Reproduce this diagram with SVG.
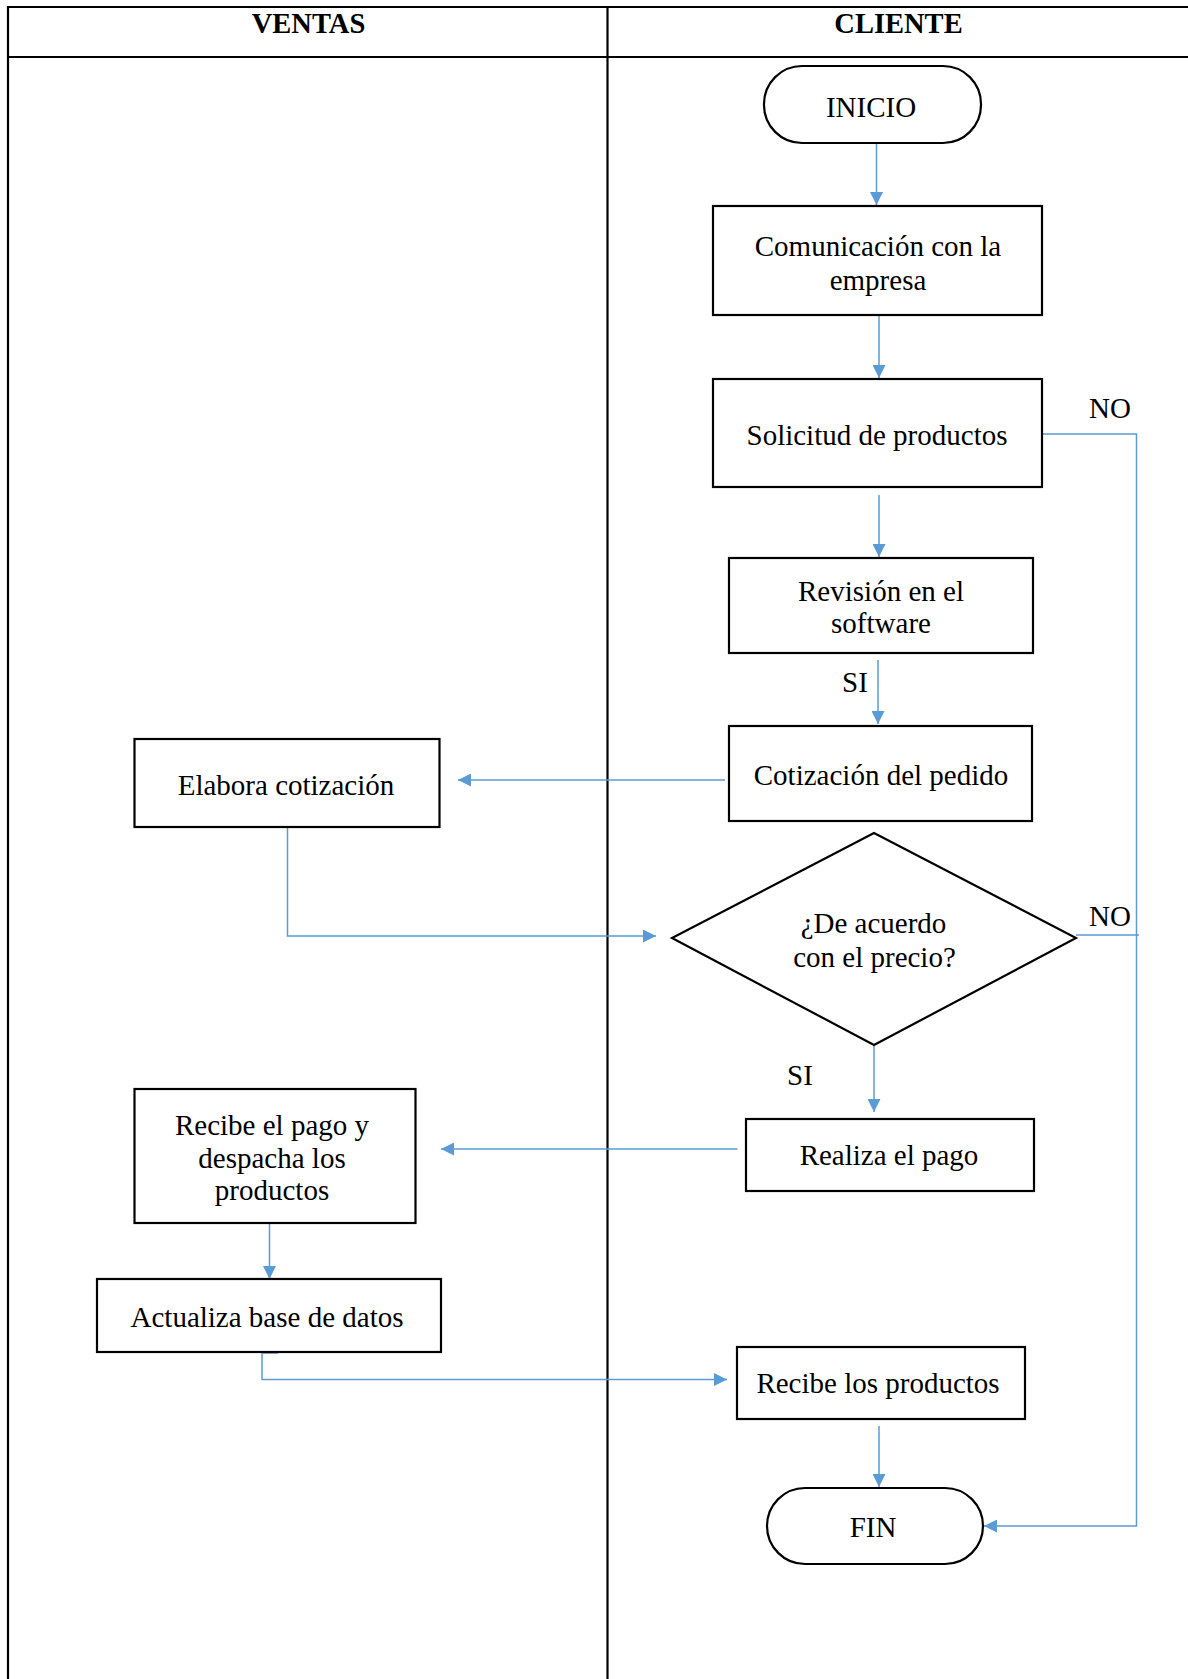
<svg xmlns="http://www.w3.org/2000/svg" width="1188" height="1679" viewBox="0 0 1188 1679">
<defs>
<style>
.frame{fill:none;stroke:#000;stroke-width:2.2}
.box{fill:#fff;stroke:#000;stroke-width:2.2}
.t{font-family:"Liberation Serif","Times New Roman",serif;font-size:29px;fill:#000;text-anchor:middle}
.h{font-family:"Liberation Serif","Times New Roman",serif;font-size:28.5px;font-weight:bold;fill:#000;text-anchor:middle}
.c{fill:none;stroke:#5B9BD5;stroke-width:1.5}
</style>
<marker id="ah" viewBox="0 0 12 12" refX="12" refY="6" markerWidth="13" markerHeight="13" markerUnits="userSpaceOnUse" orient="auto">
<path d="M0,0 L12,6 L0,12 z" fill="#5B9BD5"/>
</marker>
</defs>
<rect width="1188" height="1679" fill="#fff"/>
<g id="lanes">
<line class="frame" x1="7" y1="7" x2="1188" y2="7"/>
<line class="frame" x1="7" y1="57" x2="1188" y2="57"/>
<line class="frame" x1="8" y1="6" x2="8" y2="1679"/>
<line class="frame" x1="607.5" y1="6" x2="607.5" y2="1679"/>
<text class="h" x="308.5" y="33">VENTAS</text>
<text class="h" x="898.5" y="33">CLIENTE</text>
</g>
<g id="connectors">
<path class="c" d="M876.5,143 V205" marker-end="url(#ah)"/>
<path class="c" d="M879,315 V378" marker-end="url(#ah)"/>
<path class="c" d="M879,495 V557" marker-end="url(#ah)"/>
<path class="c" d="M878,660 V724" marker-end="url(#ah)"/>
<path class="c" d="M725,780 H458" marker-end="url(#ah)"/>
<path class="c" d="M287.5,827 V936 H656" marker-end="url(#ah)"/>
<path class="c" d="M874,1045 V1112" marker-end="url(#ah)"/>
<path class="c" d="M737.5,1149 H441" marker-end="url(#ah)"/>
<path class="c" d="M269.5,1223 V1279" marker-end="url(#ah)"/>
<path class="c" d="M278,1353 H262 V1379.5 H727" marker-end="url(#ah)"/>
<path class="c" d="M879,1426 V1487" marker-end="url(#ah)"/>
<path class="c" d="M1042,434 H1136.5 V1526 H984" marker-end="url(#ah)"/>
<path class="c" d="M1076,935 H1139"/>
<text class="t" x="1110" y="418">NO</text>
<text class="t" x="855" y="692">SI</text>
<text class="t" x="1110" y="926">NO</text>
<text class="t" x="800" y="1085">SI</text>
</g>
<g id="inicio">
<rect class="box" x="764" y="66" width="217" height="77" rx="38" ry="38"/>
<text class="t" x="871" y="117">INICIO</text>
</g>
<g id="comunicacion">
<rect class="box" x="713" y="206" width="329" height="109"/>
<text class="t" x="878" y="256">Comunicación con la</text>
<text class="t" x="878" y="290">empresa</text>
</g>
<g id="solicitud">
<rect class="box" x="713" y="379" width="329" height="108"/>
<text class="t" x="877" y="445">Solicitud de productos</text>
</g>
<g id="revision">
<rect class="box" x="729" y="558" width="304" height="95"/>
<text class="t" x="881" y="601">Revisión en el</text>
<text class="t" x="881" y="633">software</text>
</g>
<g id="cotizacion">
<rect class="box" x="729" y="726" width="303" height="95"/>
<text class="t" x="881" y="785">Cotización del pedido</text>
</g>
<g id="elabora">
<rect class="box" x="134.5" y="739" width="305" height="88"/>
<text class="t" x="286" y="795">Elabora cotización</text>
</g>
<g id="decision">
<polygon class="box" points="874,833 1076,938 874,1045 672,938"/>
<text class="t" x="873.5" y="933">¿De acuerdo</text>
<text class="t" x="874.5" y="967">con el precio?</text>
</g>
<g id="realiza">
<rect class="box" x="746" y="1119" width="288" height="72"/>
<text class="t" x="889" y="1165">Realiza el pago</text>
</g>
<g id="recibe-pago">
<rect class="box" x="134.5" y="1089" width="281" height="134"/>
<text class="t" x="272" y="1135">Recibe el pago y</text>
<text class="t" x="272" y="1168">despacha los</text>
<text class="t" x="272" y="1200">productos</text>
</g>
<g id="actualiza">
<rect class="box" x="97" y="1279" width="344" height="73"/>
<text class="t" x="267" y="1327">Actualiza base de datos</text>
</g>
<g id="recibe-productos">
<rect class="box" x="737" y="1347" width="288" height="72"/>
<text class="t" x="878" y="1393">Recibe los productos</text>
</g>
<g id="fin">
<rect class="box" x="767" y="1488" width="216" height="76" rx="38" ry="38"/>
<text class="t" x="873" y="1537">FIN</text>
</g>
</svg>
